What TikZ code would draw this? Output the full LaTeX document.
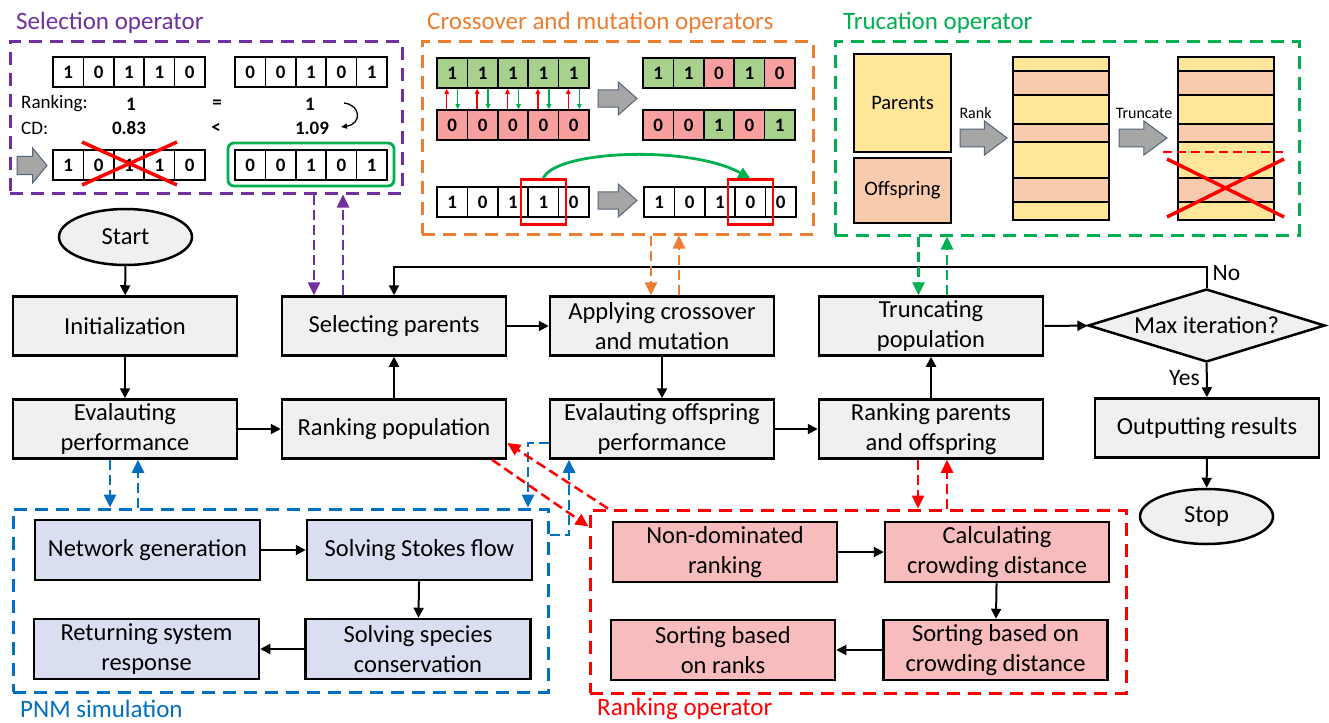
\documentclass[tikz,border=0pt]{standalone}
\usepackage{fontspec}
\setmainfont{Carlito}
\usetikzlibrary{arrows.meta,shapes.geometric,fit}
\definecolor{boxgray}{HTML}{F0F0F0}
\definecolor{pnmfill}{HTML}{D9DFF0}
\definecolor{rankfill}{HTML}{F8BCBE}
\definecolor{chg}{HTML}{A9D18E}
\definecolor{chr}{HTML}{F8A0A0}
\definecolor{yel}{HTML}{FFE699}
\definecolor{pch}{HTML}{F8CBAD}
\definecolor{agray}{HTML}{A6A6A6}
\definecolor{aedge}{HTML}{55657A}
\definecolor{cpurple}{HTML}{7030A0}
\definecolor{corange}{HTML}{ED7D31}
\definecolor{cgreen}{HTML}{00B050}
\definecolor{cblue}{HTML}{0070C0}
\definecolor{cred}{HTML}{FF0000}
\newcommand{\chrom}[4]{%
  \foreach \d/\c [count=\i] in {#4}{%
    \node[cell, fill=\c] (#1\i) at ({#2+(\i-0.5)*30.4},{#3+15}) {\d};
  }%
}
\newcommand{\grayarrow}[4]{%
  \filldraw[fill=agray, draw=aedge, line width=1pt]
  (#1,{#3-0.26*#4}) -- ({#1+0.52*(#2-#1)},{#3-0.26*#4}) -- ({#1+0.52*(#2-#1)},{#3-0.5*#4})
  -- (#2,#3) -- ({#1+0.52*(#2-#1)},{#3+0.5*#4}) -- ({#1+0.52*(#2-#1)},{#3+0.26*#4})
  -- (#1,{#3+0.26*#4}) -- cycle;%
}
\newcommand{\stripes}[1]{%
  \foreach \a/\b/\c in {57/71/yel,71/95/pch,95/124/yel,124/142/pch,142/178/yel,178/202/pch,202/220/yel}{%
    \filldraw[fill=\c, draw=black, line width=2.5pt] (#1,\a) rectangle ({#1+96},\b);
  }%
}
\tikzset{
  mainbox/.style={draw, line width=2.5pt, fill=boxgray, minimum width=224pt, minimum height=59pt,
    inner sep=0pt, align=center, font=\fontsize{24.5}{30}\selectfont},
  pnmbox/.style={mainbox, fill=pnmfill, minimum width=225pt, minimum height=60pt},
  rankbox/.style={mainbox, fill=rankfill, minimum width=224pt, minimum height=60pt},
  term/.style={ellipse, draw, line width=2.5pt, fill=boxgray, minimum width=133pt, minimum height=56pt,
    inner sep=0pt, font=\fontsize{24.5}{30}\selectfont},
  decision/.style={diamond, draw, line width=2.5pt, fill=boxgray, minimum width=237pt, minimum height=73pt,
    inner sep=0pt, aspect=3.25, font=\fontsize{24.5}{30}\selectfont},
  arr/.style={line width=2pt, -{Triangle[length=10pt,width=10pt]}},
  opbox/.style={draw, dash pattern=on 13pt off 8pt, line width=3pt, inner sep=0pt},
  conn/.style={line width=2.5pt, dash pattern=on 10pt off 5pt, -{Triangle[length=13pt,width=12pt]}},
  title/.style={anchor=west, inner sep=0pt, font=\fontsize{25}{25}\selectfont},
  cell/.style={draw, line width=1.6pt, minimum width=30.4pt, minimum height=30pt, inner sep=0pt,
    font=\bfseries\fontsize{19}{19}\selectfont},
  smalltxt/.style={inner sep=0pt, font=\fontsize{19}{19}\selectfont},
  smallbold/.style={inner sep=0pt, font=\bfseries\fontsize{19}{19}\selectfont},
  tlabel/.style={inner sep=0pt, font=\fontsize{16}{16}\selectfont},
  tbox/.style={draw, line width=2.5pt, inner sep=0pt, font=\fontsize{20.5}{24}\selectfont},
  redsel/.style={draw=cred, line width=2.4pt, inner sep=6.5pt},
  smallup/.style={cred, line width=1.4pt, -{Triangle[length=5pt,width=4.5pt]}},
  smalldown/.style={cgreen, line width=1.4pt, -{Triangle[length=5pt,width=4.5pt]}},
}
\begin{document}
\begin{tikzpicture}[x=1pt,y=-1pt]
\fill[white] (0,0) rectangle (1329,722);
\useasboundingbox (0,0) rectangle (1329,722);

% ---------- operator frames and titles ----------
\node[opbox, draw=cpurple, minimum width=392pt, minimum height=151pt] (selbox) at (206,117.5) {};
\node[opbox, draw=corange, minimum width=391pt, minimum height=192pt] (crossbox) at (617.5,138) {};
\node[opbox, draw=cgreen, minimum width=464pt, minimum height=193pt] (truncbox) at (1067,138.5) {};
\node[opbox, draw=cblue, minimum width=535pt, minimum height=183pt] (pnm) at (280.5,600.5) {};
\node[opbox, draw=cred, minimum width=536pt, minimum height=183pt] (rankop) at (858,601.5) {};

\node[title, text=cpurple] (t1) at (16,23) {Selection operator};
\node[title, text=corange] (t2) at (427,23) {Crossover and mutation operators};
\node[title, text=cgreen] (t3) at (843,23) {Trucation operator};
\node[title, text=cblue] (t4) at (20,709) {PNM simulation};
\node[title, text=cred] (t5) at (597,709) {Ranking operator};

% ---------- selection operator ----------
\chrom{sa}{53}{57}{1/white,0/white,1/white,1/white,0/white}
\chrom{sb}{235}{57}{0/white,0/white,1/white,0/white,1/white}
\chrom{sc}{53}{150}{1/white,0/white,1/white,1/white,0/white}
\chrom{sd}{235}{150}{0/white,0/white,1/white,0/white,1/white}
\node[smalltxt, anchor=west] (rk) at (21,104) {Ranking:};
\node[smalltxt, anchor=west] (cd) at (21,128) {CD:};
\node[smallbold] (rk1) at (131,104) {1};
\node[smallbold] (rkeq) at (217,104) {=};
\node[smallbold] (rk2) at (310,104) {1};
\node[smallbold] (cd1) at (129,128) {0.83};
\node[smallbold] (cdlt) at (216,128) {<};
\node[smallbold] (cd2) at (312,128) {1.09};
\draw[line width=1.3pt, -{Triangle[length=6pt,width=5pt]}] (344,103) .. controls (361,105) and (362,124) .. (341,127);
\grayarrow{17}{47}{165.5}{35}
\draw[cred, line width=3.5pt] (82,142) -- (177,185);
\draw[cred, line width=3.5pt] (177,142) -- (82,185);
\draw[cgreen, line width=2.8pt, rounded corners=6pt] (228,143) rectangle (394,186);

% ---------- crossover and mutation ----------
\chrom{xa}{437}{58}{1/chg,1/chg,1/chg,1/chg,1/chg}
\chrom{xb}{437}{110}{0/chr,0/chr,0/chr,0/chr,0/chr}
\chrom{xc}{643}{58}{1/chg,1/chg,0/chr,1/chg,0/chr}
\chrom{xd}{643}{110}{0/chr,0/chr,1/chg,0/chr,1/chg}
\foreach \i in {1,...,5}{
  \draw[smallup] ([xshift=-5.5pt]xb\i.north) -- ([xshift=-5.5pt]xa\i.south);
  \draw[smalldown] ([xshift=5.5pt]xa\i.south) -- ([xshift=5.5pt]xb\i.north);
}
\grayarrow{598}{637}{98.5}{33}
\chrom{ma}{437}{187}{1/white,0/white,1/white,1/white,0/white}
\chrom{mb}{644}{187}{1/white,0/white,1/white,0/white,0/white}
\node[redsel, fit=(ma4)] (ra) {};
\node[redsel, fit=(mb4)] (rb) {};
\grayarrow{598}{637}{200.5}{33}
\draw[cgreen, line width=2.8pt, -{Triangle[length=12pt,width=11pt]}] (ra.north) .. controls +(10,-28) and +(-61,-34) .. (rb.north);

% ---------- truncation ----------
\node[tbox, fill=yel, minimum width=97pt, minimum height=98pt] (par) at (902.5,103) {Parents};
\node[tbox, fill=pch, minimum width=97pt, minimum height=65pt] (off) at (902.5,190.5) {Offspring};
\node[tlabel] (rl) at (975.5,113) {Rank};
\grayarrow{960}{1007}{138}{34}
\stripes{1013}
\node[tlabel] (tl) at (1144,113) {Truncate};
\grayarrow{1119}{1167}{138}{34}
\stripes{1178}
\draw[cred, line width=2.5pt, dash pattern=on 9pt off 5pt] (1163,152) -- (1283,152);
\draw[cred, line width=3.5pt] (1167,159) -- (1284,217);
\draw[cred, line width=3.5pt] (1284,159) -- (1167,217);

% ---------- main flow ----------
\node[term] (start) at (125.5,237) {Start};
\node[mainbox] (init) at (125,326) {Initialization};
\node[mainbox] (evalp) at (125,429) {Evalauting\\performance};
\node[mainbox] (selp) at (394,326) {Selecting parents};
\node[mainbox] (rankp) at (394,429) {Ranking population};
\node[mainbox] (apply) at (662,326) {Applying crossover\\and mutation};
\node[mainbox] (evalo) at (662,429) {Evalauting offspring\\performance};
\node[mainbox] (trunc) at (931,326) {Truncating\\population};
\node[mainbox] (rankpo) at (931,429) {Ranking parents\\and offspring};
\node[decision] (maxit) at (1206.5,325.5) {Max iteration?};
\node[mainbox] (outp) at (1207,428) {Outputting results};
\node[term, minimum height=55pt] (stop) at (1206.5,516.5) {Stop};

\draw[arr] (start) -- (init);
\draw[arr] (init) -- (evalp);
\draw[arr] (evalp) -- (rankp);
\draw[arr] (rankp) -- (selp);
\draw[arr] (selp) -- (apply);
\draw[arr] (apply) -- (evalo);
\draw[arr] (evalo) -- (rankpo);
\draw[arr] (rankpo) -- (trunc);
\draw[arr] (trunc) -- (maxit);
\draw[arr] (maxit) -- node[pos=0.45, anchor=east, inner sep=0pt, xshift=-6pt, font=\fontsize{23.5}{24}\selectfont] (yes) {Yes} (outp);
\draw[arr] (outp) -- (stop);
\draw[arr] (maxit.north) -- ++(0,-21) coordinate (fb) -| (selp.north);
\node[anchor=west, inner sep=0pt, font=\fontsize{23.5}{24}\selectfont] (no) at ([xshift=6pt,yshift=-6pt]fb) {No};

% ---------- PNM simulation ----------
\node[pnmbox] (netgen) at (147.5,550) {Network generation};
\node[pnmbox] (stokes) at (419.5,550) {Solving Stokes flow};
\node[pnmbox] (species) at (418,649) {Solving species\\conservation};
\node[pnmbox] (ret) at (146.5,649) {Returning system\\response};
\draw[arr] (netgen) -- (stokes);
\draw[arr] (stokes) -- (species);
\draw[arr] (species) -- (ret);

% ---------- ranking operator ----------
\node[rankbox] (nondom) at (725,552) {Non-dominated\\ranking};
\node[rankbox] (calc) at (997,552) {Calculating\\crowding distance};
\node[rankbox] (sortcd) at (995.5,650) {Sorting based on\\crowding distance};
\node[rankbox] (sortr) at (723,650) {Sorting based\\on ranks};
\draw[arr] (nondom) -- (calc);
\draw[arr] (calc) -- (sortcd);
\draw[arr] (sortcd) -- (sortr);

% ---------- coloured dashed links ----------
\coordinate (pd) at ([xshift=-80pt]selp.north);
\coordinate (pu) at ([xshift=-51pt]selp.north);
\draw[conn, cpurple] (pd |- selbox.south) -- (pd);
\draw[conn, cpurple] (pu) -- (pu |- selbox.south);

\coordinate (od) at ([xshift=-11pt]apply.north);
\coordinate (ou) at ([xshift=17pt]apply.north);
\draw[conn, corange] (od |- crossbox.south) -- (od);
\draw[conn, corange] (ou) -- (ou |- crossbox.south);

\coordinate (gd) at ([xshift=-12.5pt]trunc.north);
\coordinate (gu) at ([xshift=16pt]trunc.north);
\draw[conn, cgreen] (gd |- truncbox.south) -- (gd);
\draw[conn, cgreen] (gu) -- (gu |- truncbox.south);

\coordinate (bd) at ([xshift=-15pt]evalp.south);
\coordinate (bu) at ([xshift=13pt]evalp.south);
\draw[conn, cblue] (bd) -- (bd |- pnm.north);
\draw[conn, cblue] (bu |- pnm.north) -- (bu);

\coordinate (bx) at (528,0);
\draw[conn, cblue] ([yshift=-14pt]evalo.west) -| (bx |- pnm.north);
\draw[conn, cblue] ([yshift=65.5pt]pnm.east) -| ([xshift=-93pt]evalo.south);

\coordinate (rd) at ([xshift=-13pt]rankpo.south);
\coordinate (ru) at ([xshift=16pt]rankpo.south);
\draw[conn, cred] (rd) -- (rd |- rankop.north);
\draw[conn, cred] (ru |- rankop.north) -- (ru);

\draw[conn, cred] ([xshift=98pt]rankp.south) -- ([yshift=75pt]rankop.west);
\draw[conn, cred] ([xshift=-250pt]rankop.north) -- ([yshift=-14pt]rankp.east);
\end{tikzpicture}
\end{document}
